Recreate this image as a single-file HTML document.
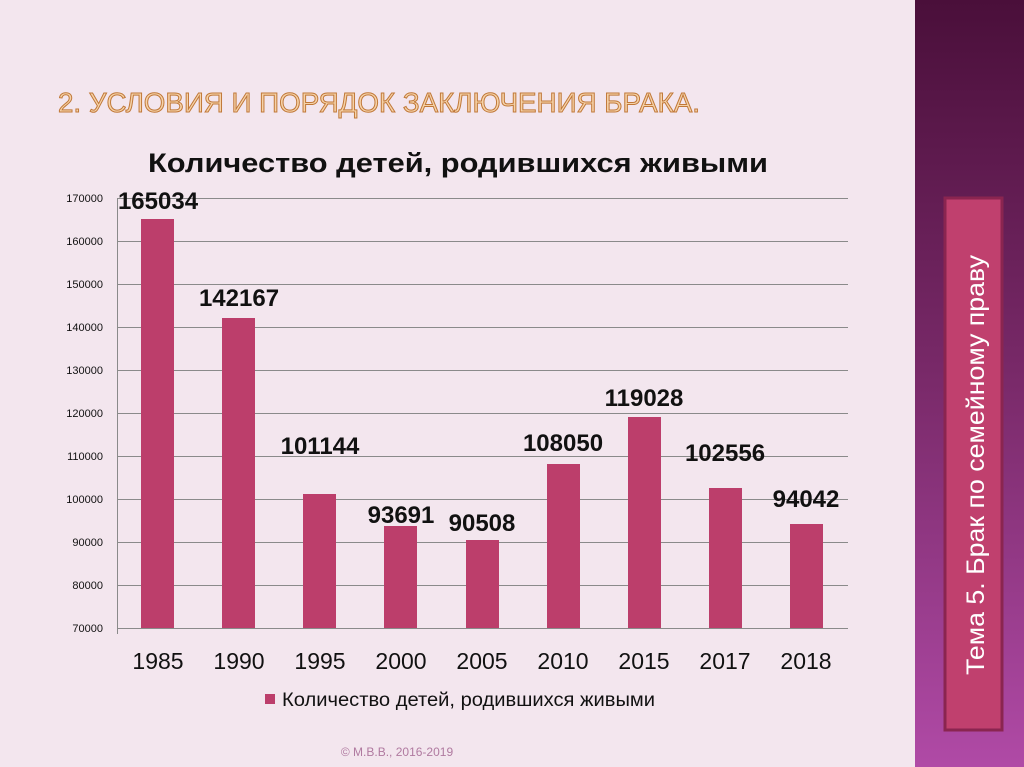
<!DOCTYPE html>
<html><head><meta charset="utf-8"><style>
body{margin:0;width:1024px;height:767px;overflow:hidden;background:#f3e6ee;font-family:"Liberation Sans",sans-serif;}
</style></head><body>
<svg width="1024" height="767" xmlns="http://www.w3.org/2000/svg" style="position:absolute;left:0;top:0">
<defs>
<linearGradient id="sb" x1="0" y1="0" x2="0" y2="1">
<stop offset="0" stop-color="#4a0f3a"/><stop offset="0.5" stop-color="#7a2a6a"/><stop offset="1" stop-color="#b04aa6"/>
</linearGradient>
</defs>
<rect x="0" y="0" width="915" height="767" fill="#f3e6ee"/>
<rect x="915" y="0" width="109" height="767" fill="url(#sb)"/>
<rect x="945" y="198" width="57" height="532" fill="#c0406e" stroke="#8a2550" stroke-width="3"/>
<text transform="translate(984,465) rotate(-90)" text-anchor="middle" font-size="25" fill="#fff" textLength="420" lengthAdjust="spacingAndGlyphs">Тема 5.  Брак по семейному праву</text>
<text x="58" y="112" font-size="28" fill="#f6d2a8" stroke="#c07838" stroke-width="1" textLength="642" lengthAdjust="spacingAndGlyphs">2. УСЛОВИЯ И ПОРЯДОК ЗАКЛЮЧЕНИЯ БРАКА.</text>
<text x="148" y="172" font-size="27" font-weight="bold" fill="#111" textLength="620" lengthAdjust="spacingAndGlyphs">Количество детей, родившихся живыми</text>
<g stroke="#8a8a8a" stroke-width="1">
<line x1="117" y1="198.5" x2="848" y2="198.5"/><line x1="117" y1="241.5" x2="848" y2="241.5"/>
<line x1="117" y1="284.5" x2="848" y2="284.5"/><line x1="117" y1="327.5" x2="848" y2="327.5"/>
<line x1="117" y1="370.5" x2="848" y2="370.5"/><line x1="117" y1="413.5" x2="848" y2="413.5"/>
<line x1="117" y1="456.5" x2="848" y2="456.5"/><line x1="117" y1="499.5" x2="848" y2="499.5"/>
<line x1="117" y1="542.5" x2="848" y2="542.5"/><line x1="117" y1="585.5" x2="848" y2="585.5"/>
<line x1="117" y1="628.5" x2="848" y2="628.5"/><line x1="117.5" y1="198" x2="117.5" y2="634"/>
</g>
<g font-size="11" fill="#111" text-anchor="end">
<text x="103" y="202">170000</text><text x="103" y="245">160000</text><text x="103" y="288">150000</text>
<text x="103" y="331">140000</text><text x="103" y="374">130000</text><text x="103" y="417">120000</text>
<text x="103" y="460">110000</text><text x="103" y="503">100000</text><text x="103" y="546">90000</text>
<text x="103" y="589">80000</text><text x="103" y="632">70000</text>
</g>
<g fill="#bc3e6b">
<rect x="141" y="219" width="33" height="409"/>
<rect x="222" y="318" width="33" height="310"/>
<rect x="303" y="494" width="33" height="134"/>
<rect x="384" y="526" width="33" height="102"/>
<rect x="466" y="540" width="33" height="88"/>
<rect x="547" y="464" width="33" height="164"/>
<rect x="628" y="417" width="33" height="211"/>
<rect x="709" y="488" width="33" height="140"/>
<rect x="790" y="524" width="33" height="104"/>
</g>
<g font-size="24" font-weight="bold" fill="#111" text-anchor="middle">
<text x="158" y="209">165034</text><text x="239" y="306">142167</text><text x="320" y="454">101144</text>
<text x="401" y="523">93691</text><text x="482" y="531">90508</text><text x="563" y="451">108050</text>
<text x="644" y="406">119028</text><text x="725" y="461">102556</text><text x="806" y="507">94042</text>
</g>
<g font-size="23" fill="#111" text-anchor="middle">
<text x="158" y="669">1985</text><text x="239" y="669">1990</text><text x="320" y="669">1995</text>
<text x="401" y="669">2000</text><text x="482" y="669">2005</text><text x="563" y="669">2010</text>
<text x="644" y="669">2015</text><text x="725" y="669">2017</text><text x="806" y="669">2018</text>
</g>
<rect x="265" y="694" width="10" height="10" fill="#bc3e6b"/>
<text x="282" y="706" font-size="19" fill="#111" textLength="373" lengthAdjust="spacingAndGlyphs">Количество детей, родившихся живыми</text>
<text x="397" y="756" text-anchor="middle" font-size="12" fill="#b07aa0">© М.В.В., 2016-2019</text>
</svg>
</body></html>
